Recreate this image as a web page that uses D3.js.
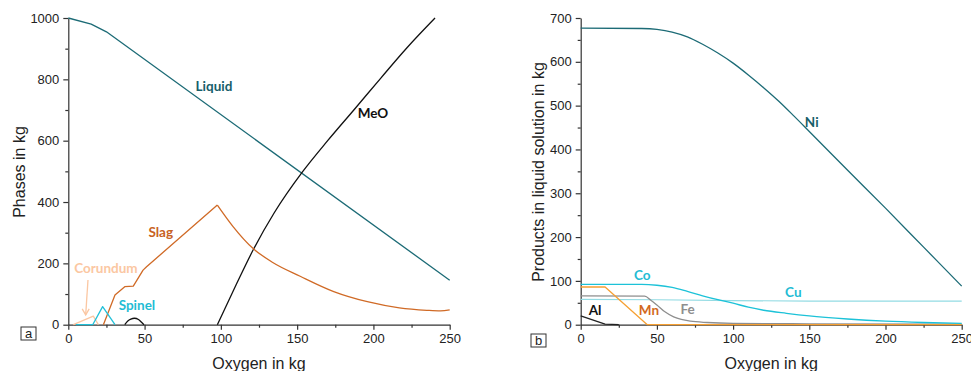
<!DOCTYPE html>
<html>
<head>
<meta charset="utf-8">
<script src="https://cdn.jsdelivr.net/npm/d3@7"></script>
<style>
  body { margin: 0; background: #fff; }
  svg { display: block; }
  .axis text { font-family: "Liberation Sans", Arial, sans-serif; font-size: 13px; fill: #222; }
  .axis path, .axis line { stroke: #333; stroke-width: 1.2; }
  .title { font-family: "Liberation Sans", Arial, sans-serif; font-size: 16px; fill: #222; }
  .lbl { font-family: Lato, "Open Sans", sans-serif; font-size: 13.5px; font-weight: bold; }
</style>
</head>
<body>
<svg width="971" height="371"></svg>
<script>
// x axis ticks (both panels)
var xTicks = [0, 50, 100, 150, 200, 250];

// panel a: phases in kg vs oxygen
var liquidX = [0, 15, 25, 250];
var liquidY = [1000, 980, 955, 145];
var meoX = [97.7, 110, 121.3, 135, 153.6, 170, 188, 205, 222, 240.4];
var meoY = [0, 130, 245, 365, 499, 600, 705, 805, 903, 1000];
var slagX = [23, 30.6, 37, 42.6, 49, 51.3, 97.7, 108, 121, 134, 152, 174, 196, 217, 235, 244, 250];
var slagY = [0, 97, 124, 126, 178, 189, 390, 320, 249, 203, 158, 108, 75, 55, 47, 45, 48];
var corundumX = [3.3, 16.4, 19.7];
var corundumY = [0, 28, 0];
var spinelX = [5, 16, 22.5, 30.6];
var spinelY = [0, 0, 59, 0];
var bumpX = [37, 39, 41, 43.3, 46, 48, 49.6];
var bumpY = [0, 12, 18, 21, 17, 8, 0];

// panel b: products in liquid solution in kg
var niX = [0, 40, 50, 60, 70, 80, 90, 100, 110, 120, 130, 140, 150, 175, 200, 225, 250];
var niY = [677, 676, 674, 668, 657, 640, 620, 597, 570, 541, 510, 476, 441, 353, 266, 177, 88];
var coX = [0, 40, 50, 60, 70, 80, 90, 100, 110, 120, 135, 150, 175, 200, 225, 250];
var coY = [92, 92, 90, 85, 76, 66, 57, 49, 40, 33, 26, 20, 13, 8, 5, 3];
var cuX = [0, 50, 100, 150, 250];
var cuY = [58, 57, 55, 54, 54];
var mnX = [0, 16, 43.7, 250];
var mnY = [86, 86, 0, 0];
var feX = [0, 42, 46, 50, 55, 61, 66, 72, 83, 100, 150, 250];
var feY = [66, 65, 56, 45, 30, 18, 12, 8, 5, 3, 2, 1];
var alX = [0, 16, 25];
var alY = [20, 1.5, 0];

function pts(xs, ys) { return xs.map(function (v, i) { return [v, ys[i]]; }); }

var svg = d3.select("svg");

function panel(cfg) {
    var x = d3.scaleLinear().domain([0, 250]).range([cfg.x0, cfg.x1]);
    var y = d3.scaleLinear().domain([0, cfg.ymax]).range([324.7, 18]);
    var g = svg.append("g");

    // minor ticks
    g.append("g").attr("class", "axis")
        .attr("transform", "translate(0,324.7)")
        .call(d3.axisBottom(x).tickValues(d3.range(25, 250, 50)).tickSize(3).tickFormat(""))
        .select(".domain").remove();
    g.append("g").attr("class", "axis")
        .attr("transform", "translate(" + cfg.x0 + ",0)")
        .call(d3.axisLeft(y).tickValues(cfg.yMinor).tickSize(3).tickFormat(""))
        .select(".domain").remove();

    g.append("g").attr("class", "axis")
        .attr("transform", "translate(0,324.7)")
        .call(d3.axisBottom(x).tickValues(xTicks).tickSize(5).tickSizeOuter(0).tickPadding(4).tickFormat(d3.format("d")));
    g.append("g").attr("class", "axis")
        .attr("transform", "translate(" + cfg.x0 + ",0)")
        .call(d3.axisLeft(y).tickValues(cfg.yTicks).tickSize(5).tickSizeOuter(0).tickPadding(4).tickFormat(d3.format("d")));

    cfg.series.forEach(function (s) {
        var data = pts(s.xs, s.ys);
        // some series are straight up to a corner and smooth after it
        var parts = s.smoothFrom != null
            ? [[data.slice(0, s.smoothFrom + 1), false], [data.slice(s.smoothFrom), true]]
            : [[data, s.smooth]];
        parts.forEach(function (p) {
            var line = d3.line()
                .x(function (d) { return x(d[0]); })
                .y(function (d) { return y(d[1]); })
                .curve(p[1] ? d3.curveMonotoneX : d3.curveLinear);
            g.append("path")
                .datum(p[0])
                .attr("d", line)
                .attr("fill", "none")
                .attr("stroke", s.color)
                .attr("stroke-width", s.w || 1.3)
                .attr("stroke-linejoin", "round");
        });
    });

    cfg.labels.forEach(function (l) {
        g.append("text").attr("class", "lbl")
            .attr("x", x(l.x)).attr("y", y(l.y))
            .attr("text-anchor", "middle").attr("dy", "0.35em")
            .attr("fill", l.color).text(l.text);
    });

    g.append("text").attr("class", "title")
        .attr("x", (cfg.x0 + cfg.x1) / 2).attr("y", 369)
        .attr("text-anchor", "middle").text("Oxygen in kg");
    g.append("text").attr("class", "title")
        .attr("transform", "translate(" + cfg.tx + ",172) rotate(-90)")
        .attr("text-anchor", "middle").attr("dy", "0.35em").text(cfg.ytitle);

    // boxed panel letter
    g.append("rect").attr("x", cfg.box[0]).attr("y", cfg.box[1])
        .attr("width", 15).attr("height", 13)
        .attr("fill", "none").attr("stroke", "#333").attr("stroke-width", 1);
    g.append("text").attr("class", "title").style("font-size", "13px")
        .attr("x", cfg.box[0] + 7.5).attr("y", cfg.box[1] + 11)
        .attr("text-anchor", "middle").text(cfg.letter);

    return { x: x, y: y, g: g };
}

var a = panel({
    x0: 68.3, x1: 449.7, ymax: 1000,
    yTicks: [0, 200, 400, 600, 800, 1000],
    yMinor: [100, 300, 500, 700, 900],
    ytitle: "Phases in kg", tx: 19, letter: "a", box: [21, 327],
    series: [
        { xs: liquidX, ys: liquidY, color: "#1c6b76" },
        { xs: meoX, ys: meoY, color: "#111", smooth: true },
        { xs: slagX, ys: slagY, color: "#d06a26", smoothFrom: 6 },
        { xs: corundumX, ys: corundumY, color: "#fbc7a2" },
        { xs: spinelX, ys: spinelY, color: "#22c0d8" },
        { xs: bumpX, ys: bumpY, color: "#111", smooth: true }
    ],
    labels: [
        { text: "Liquid", x: 95.5, y: 778, color: "#175e6a" },
        { text: "MeO", x: 199.7, y: 690, color: "#111" },
        { text: "Slag", x: 60.6, y: 300, color: "#c8621f" },
        { text: "Corundum", x: 24.7, y: 183, color: "#fbc7a2" },
        { text: "Spinel", x: 45, y: 64, color: "#1fbcd4" }
    ]
});

// corundum arrow
var ax1 = a.x(12.9), ay1 = a.y(146), ax2 = a.x(11.4), ay2 = a.y(32);
a.g.append("line").attr("x1", ax1).attr("y1", ay1).attr("x2", ax2).attr("y2", ay2)
    .attr("stroke", "#fbc7a2").attr("stroke-width", 1.3);
a.g.append("path")
    .attr("d", "M" + (ax2 - 3.5) + "," + (ay2 - 6) + "L" + ax2 + "," + ay2 + "L" + (ax2 + 3.5) + "," + (ay2 - 6))
    .attr("fill", "none").attr("stroke", "#fbc7a2").attr("stroke-width", 1.3);

panel({
    x0: 580.7, x1: 961.7, ymax: 700,
    yTicks: [0, 100, 200, 300, 400, 500, 600, 700],
    yMinor: [50, 150, 250, 350, 450, 550, 650],
    ytitle: "Products in liquid solution in kg", tx: 538, letter: "b", box: [531, 334],
    series: [
        { xs: cuX, ys: cuY, color: "#93dbe3", w: 1.2 },
        { xs: alX, ys: alY, color: "#222" },
        { xs: feX, ys: feY, color: "#8e8e8e", smooth: true },
        { xs: mnX, ys: mnY, color: "#f6a033" },
        { xs: coX, ys: coY, color: "#1cc2d8", smooth: true },
        { xs: niX, ys: niY, color: "#1c6b76", smooth: true }
    ],
    labels: [
        { text: "Ni", x: 151.6, y: 461, color: "#175e6a" },
        { text: "Co", x: 40.4, y: 112.7, color: "#1fbcd4" },
        { text: "Cu", x: 139.5, y: 73, color: "#1fbcd4" },
        { text: "Al", x: 9.4, y: 33.5, color: "#111" },
        { text: "Mn", x: 44.8, y: 33.5, color: "#d2691e" },
        { text: "Fe", x: 70.2, y: 36, color: "#8e8e8e" }
    ]
});
</script>
</body>
</html>
